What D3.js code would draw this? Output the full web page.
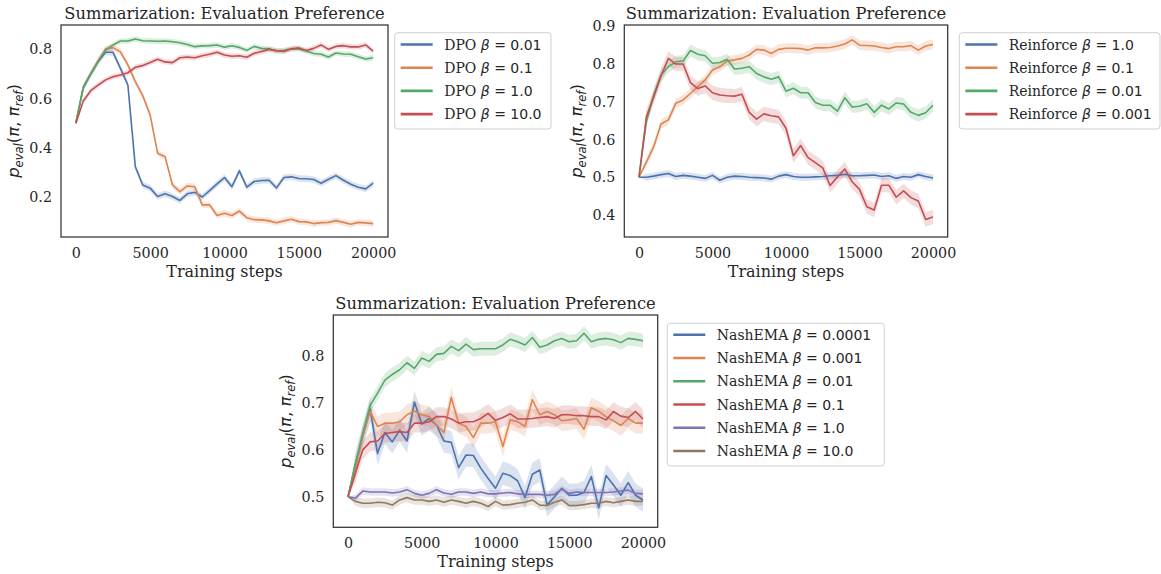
<!DOCTYPE html>
<html><head><meta charset="utf-8">
<script src="https://cdn.jsdelivr.net/npm/d3@7"></script>
<style>body{margin:0;background:#fff}</style>
</head><body>
<svg id="c" width="1161" height="574" xmlns="http://www.w3.org/2000/svg"></svg>
<script>
// ---------------- DATA ----------------
const steps = [0,500,1000,1500,2000,2500,3000,3500,4000,4500,5000,5500,6000,6500,7000,7500,8000,8500,9000,9500,10000,
  10500,11000,11500,12000,12500,13000,13500,14000,14500,15000,15500,16000,16500,17000,17500,18000,18500,19000,19500,20000];
const xTicks = [0,5000,10000,15000,20000];
const titleText = "Summarization: Evaluation Preference";
const xLabelText = "Training steps";

// Panel 1: DPO
const dpoLabels = ["0.01","0.1","1.0","10.0"];
const dpo_001 = [0.50,0.645,0.70,0.75,0.788,0.788,0.723,0.655,0.323,0.249,0.236,0.202,0.213,0.202,0.186,0.213,0.219,0.200,0.226,0.253,0.279,0.242,0.306,0.240,0.263,0.267,0.268,0.237,0.279,0.282,0.275,0.274,0.271,0.256,0.272,0.287,0.268,0.252,0.240,0.233,0.256];
const dpo_01  = [0.50,0.645,0.70,0.755,0.802,0.807,0.79,0.737,0.669,0.612,0.533,0.378,0.364,0.249,0.222,0.245,0.242,0.168,0.168,0.125,0.134,0.125,0.143,0.116,0.108,0.107,0.103,0.095,0.103,0.110,0.100,0.099,0.092,0.096,0.097,0.104,0.097,0.089,0.097,0.095,0.092];
const dpo_1   = [0.50,0.645,0.70,0.75,0.797,0.818,0.834,0.834,0.842,0.835,0.834,0.833,0.834,0.831,0.827,0.820,0.811,0.814,0.815,0.818,0.809,0.815,0.808,0.796,0.812,0.804,0.802,0.793,0.796,0.802,0.802,0.793,0.783,0.780,0.769,0.785,0.781,0.780,0.770,0.761,0.766];
const dpo_10  = [0.50,0.59,0.632,0.655,0.676,0.689,0.696,0.705,0.727,0.734,0.747,0.760,0.749,0.746,0.766,0.769,0.766,0.774,0.780,0.788,0.777,0.772,0.774,0.768,0.784,0.791,0.800,0.795,0.791,0.802,0.806,0.795,0.804,0.818,0.800,0.812,0.815,0.810,0.810,0.818,0.793];
const dpoBand = [0.013,0.013,0.011,0.011];

// Panel 2: Reinforce
const reinfLabels = ["1.0","0.1","0.01","0.001"];
const reinf_1    = [0.50,0.500,0.503,0.507,0.510,0.502,0.505,0.503,0.500,0.497,0.505,0.492,0.500,0.503,0.502,0.500,0.499,0.498,0.495,0.503,0.507,0.502,0.500,0.500,0.501,0.502,0.504,0.505,0.508,0.504,0.504,0.505,0.506,0.502,0.504,0.497,0.502,0.500,0.507,0.502,0.498];
const reinf_01   = [0.50,0.540,0.581,0.641,0.652,0.696,0.705,0.722,0.740,0.758,0.784,0.793,0.808,0.811,0.815,0.824,0.839,0.837,0.828,0.839,0.842,0.842,0.841,0.837,0.843,0.843,0.844,0.848,0.853,0.864,0.850,0.849,0.848,0.844,0.841,0.846,0.846,0.849,0.837,0.848,0.852];
const reinf_001  = [0.50,0.647,0.718,0.771,0.793,0.806,0.808,0.836,0.826,0.822,0.802,0.804,0.812,0.787,0.789,0.793,0.775,0.766,0.760,0.766,0.728,0.736,0.724,0.724,0.698,0.691,0.691,0.675,0.711,0.686,0.688,0.695,0.672,0.691,0.681,0.697,0.694,0.672,0.664,0.671,0.691];
const reinf_0001 = [0.50,0.660,0.713,0.769,0.815,0.800,0.800,0.751,0.735,0.742,0.724,0.718,0.716,0.715,0.720,0.672,0.654,0.668,0.663,0.660,0.630,0.557,0.584,0.552,0.539,0.525,0.478,0.501,0.522,0.488,0.468,0.422,0.413,0.479,0.479,0.447,0.464,0.446,0.437,0.388,0.395];
const reinfBand = [0.009,0.013,0.016,0.019];

// Panel 3: NashEMA
const nashLabels = ["0.0001","0.001","0.01","0.1","1.0","10.0"];
const nash_00001 = [0.50,0.57,0.63,0.687,0.592,0.637,0.617,0.642,0.619,0.702,0.655,0.667,0.653,0.619,0.616,0.562,0.589,0.588,0.561,0.539,0.518,0.550,0.545,0.534,0.498,0.548,0.557,0.482,0.500,0.518,0.503,0.503,0.509,0.543,0.476,0.545,0.525,0.503,0.530,0.503,0.493];
const nash_0001  = [0.50,0.56,0.63,0.682,0.650,0.657,0.657,0.660,0.675,0.683,0.675,0.671,0.653,0.637,0.712,0.657,0.650,0.626,0.657,0.657,0.660,0.607,0.664,0.660,0.650,0.707,0.675,0.682,0.675,0.662,0.664,0.667,0.644,0.690,0.682,0.671,0.662,0.652,0.667,0.657,0.657];
const nash_001   = [0.50,0.57,0.635,0.695,0.721,0.749,0.761,0.771,0.786,0.774,0.796,0.789,0.804,0.806,0.821,0.812,0.826,0.814,0.816,0.816,0.816,0.824,0.836,0.831,0.824,0.840,0.819,0.824,0.833,0.838,0.831,0.833,0.849,0.831,0.836,0.838,0.835,0.829,0.838,0.836,0.833];
const nash_01    = [0.50,0.55,0.600,0.617,0.619,0.635,0.637,0.639,0.637,0.657,0.657,0.660,0.671,0.671,0.666,0.657,0.660,0.660,0.667,0.678,0.663,0.669,0.677,0.666,0.666,0.667,0.669,0.671,0.667,0.675,0.675,0.673,0.673,0.671,0.671,0.664,0.682,0.672,0.669,0.682,0.666];
const nash_1     = [0.50,0.497,0.512,0.510,0.510,0.510,0.508,0.510,0.515,0.507,0.503,0.507,0.515,0.508,0.505,0.510,0.510,0.507,0.510,0.506,0.506,0.508,0.509,0.506,0.505,0.505,0.505,0.503,0.505,0.516,0.507,0.510,0.509,0.509,0.509,0.509,0.510,0.512,0.514,0.507,0.506];
const nash_10    = [0.50,0.490,0.486,0.486,0.488,0.487,0.482,0.493,0.498,0.493,0.493,0.490,0.493,0.488,0.493,0.490,0.486,0.490,0.486,0.479,0.490,0.482,0.483,0.486,0.488,0.493,0.482,0.481,0.488,0.493,0.481,0.481,0.483,0.486,0.486,0.490,0.487,0.490,0.493,0.490,0.490];
const nashBand = [0.025,0.022,0.015,0.02,0.008,0.01];

const yTicks1 = [0.2,0.4,0.6,0.8];
const yTicks2 = [0.4,0.5,0.6,0.7,0.8,0.9];
const yTicks3 = [0.5,0.6,0.7,0.8];

const colors = ["#4C72B0","#DD8452","#55A868","#C44E52","#8172B3","#937860"];

// ---------------- LAYOUT ----------------
const TXT = "#262626";
const SERIF = "'DejaVu Serif', serif";
const SANS = "'DejaVu Sans', sans-serif";

const panels = [
  { box:[61,25,388,237], ydom:[0.0375,0.899], yticks:yTicks1, name:"DPO",
    labels:dpoLabels, series:[dpo_001,dpo_01,dpo_1,dpo_10], bands:dpoBand,
    legend:{x0:394.7,y0:32.7,x1:551,y1:129,row0:44.5,dy:23.2} },
  { box:[624.3,25,947.7,237], ydom:[0.3417,0.9035], yticks:yTicks2, name:"Reinforce",
    labels:reinfLabels, series:[reinf_1,reinf_01,reinf_001,reinf_0001], bands:reinfBand,
    legend:{x0:959.3,y0:32.7,x1:1160,y1:129,row0:44.5,dy:23.2} },
  { box:[333.3,315,657.7,527.3], ydom:[0.4346,0.888], yticks:yTicks3, name:"NashEMA",
    labels:nashLabels, series:[nash_00001,nash_0001,nash_001,nash_01,nash_1,nash_10], bands:nashBand,
    legend:{x0:667.3,y0:323.3,x1:884.3,y1:466,row0:334.8,dy:23.25} }
];

const svg = d3.select("#c");

panels.forEach((p, pi) => {
  const [L,T,R,B] = p.box;
  const x = d3.scaleLinear().domain([-1000,21000]).range([L,R]);
  const y = d3.scaleLinear().domain(p.ydom).range([B,T]);
  const g = svg.append("g");
  const clipId = "clip"+pi;
  svg.append("clipPath").attr("id",clipId).append("rect")
     .attr("x",L).attr("y",T).attr("width",R-L).attr("height",B-T);
  const plot = g.append("g").attr("clip-path",`url(#${clipId})`);

  p.series.forEach((vals, si) => {
    const data = steps.map((s,i)=>({s, v:vals[i], e: i===0 ? 0 : p.bands[si]}));
    plot.append("path").datum(data)
      .attr("d", d3.area().x(d=>x(d.s)).y0(d=>y(d.v-d.e)).y1(d=>y(d.v+d.e)))
      .attr("fill", colors[si]).attr("fill-opacity",0.2).attr("stroke","none");
  });
  p.series.forEach((vals, si) => {
    const data = steps.map((s,i)=>({s, v:vals[i]}));
    plot.append("path").datum(data)
      .attr("d", d3.line().x(d=>x(d.s)).y(d=>y(d.v)))
      .attr("fill","none").attr("stroke", colors[si]).attr("stroke-width",1.6)
      .attr("stroke-linejoin","round");
  });

  // frame
  g.append("rect").attr("x",L).attr("y",T).attr("width",R-L).attr("height",B-T)
    .attr("fill","none").attr("stroke","#333").attr("stroke-width",1.25);

  // x axis
  const xa = g.append("g").attr("transform",`translate(0,${B})`)
    .call(d3.axisBottom(x).tickValues(xTicks).tickSize(0).tickPadding(11).tickFormat(d3.format("d")));
  xa.select(".domain").remove();
  xa.selectAll("text").attr("font-family",SERIF).attr("font-size",14.3).attr("fill",TXT);

  // y axis
  const ya = g.append("g").attr("transform",`translate(${L},0)`)
    .call(d3.axisLeft(y).tickValues(p.yticks).tickSize(0).tickPadding(9).tickFormat(d3.format(".1f")));
  ya.select(".domain").remove();
  ya.selectAll("text").attr("font-family",SERIF).attr("font-size",14.3).attr("fill",TXT);

  // title
  g.append("text").attr("x",(L+R)/2).attr("y",T-6).attr("text-anchor","middle")
    .attr("font-family",SERIF).attr("font-size",16.3).attr("fill",TXT).text(titleText);

  // x label
  g.append("text").attr("x",(L+R)/2).attr("y",B+40).attr("text-anchor","middle")
    .attr("font-family",SERIF).attr("font-size",16).attr("fill",TXT).text(xLabelText);

  // y label (math)
  const yl = g.append("text").attr("transform",`translate(${L-42},${(T+B)/2}) rotate(-90)`)
    .attr("text-anchor","middle").attr("font-family",SANS).attr("font-size",16.5).attr("fill",TXT);
  yl.append("tspan").attr("font-style","italic").text("p");
  yl.append("tspan").attr("font-style","italic").attr("font-size",11.5).attr("dy",3.7).text("eval");
  yl.append("tspan").attr("dy",-3.7).text("(");
  yl.append("tspan").attr("font-style","italic").text("π");
  yl.append("tspan").text(", ");
  yl.append("tspan").attr("font-style","italic").text("π");
  yl.append("tspan").attr("font-style","italic").attr("font-size",11.5).attr("dy",3.7).text("ref");
  yl.append("tspan").attr("dy",-3.7).text(")");

  // legend
  const lg = p.legend;
  g.append("rect").attr("x",lg.x0).attr("y",lg.y0).attr("width",lg.x1-lg.x0).attr("height",lg.y1-lg.y0)
    .attr("rx",3).attr("fill","#fff").attr("fill-opacity",0.8).attr("stroke","#d0d0d0").attr("stroke-width",1);
  p.labels.forEach((lab, li) => {
    const cy = lg.row0 + li*lg.dy;
    g.append("line").attr("x1",lg.x0+6).attr("x2",lg.x0+38).attr("y1",cy).attr("y2",cy)
      .attr("stroke",colors[li]).attr("stroke-width",2.6);
    const t = g.append("text").attr("x",lg.x0+49.5).attr("y",cy+5).attr("fill",TXT).attr("font-size",14);
    t.append("tspan").attr("font-family",SERIF).text(p.name+" ");
    t.append("tspan").attr("font-family",SANS).attr("font-style","italic").text("β");
    t.append("tspan").attr("font-family",SANS).text(" = "+lab);
  });
});
</script>
</body></html>
